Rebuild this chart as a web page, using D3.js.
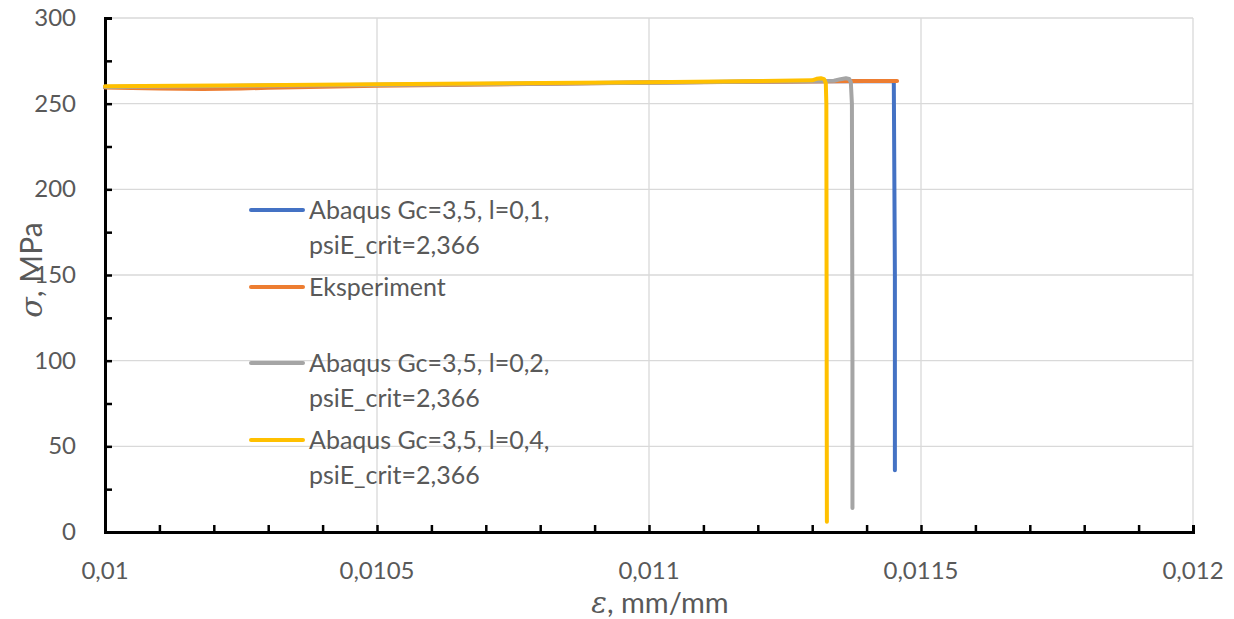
<!DOCTYPE html>
<html>
<head>
<meta charset="utf-8">
<script src="https://cdn.jsdelivr.net/npm/d3@7"></script>
<style>
  body { margin: 0; background: #fff; }
  svg { font-family: Lato, 'Open Sans', sans-serif; }
</style>
</head>
<body>
<svg id="chart"></svg>
<script>
// series data, strain (mm/mm) and stress (MPa)
const seriesNames = [
  ['Abaqus Gc=3,5, l=0,1,', 'psiE_crit=2,366'],
  ['Eksperiment'],
  ['Abaqus Gc=3,5, l=0,2,', 'psiE_crit=2,366'],
  ['Abaqus Gc=3,5, l=0,4,', 'psiE_crit=2,366']
];
const seriesColors = ['#4472C4', '#ED7D31', '#A5A5A5', '#FFC000'];

const blueX = [0.01, 0.0105, 0.011, 0.01125, 0.01145, 0.011452, 0.011452];
const blueY = [259.8, 261, 262.3, 263, 263.3, 150, 36];

const orangeX = [0.01, 0.01005, 0.0101, 0.01018, 0.01025, 0.0103, 0.0105, 0.011, 0.0114, 0.011456];
const orangeY = [259.5, 259.1, 258.8, 258.5, 258.8, 259.3, 260.5, 262.3, 263.2, 263.2];

const grayX = [0.01, 0.0105, 0.011, 0.01134, 0.011352, 0.011362, 0.011368, 0.011371, 0.011373, 0.011374, 0.011374];
const grayY = [259.8, 260.9, 262.2, 263.4, 264.3, 264.8, 264.4, 262.5, 250, 100, 14];

const yellowX = [0.01, 0.0105, 0.011, 0.0113, 0.011308, 0.011316, 0.011322, 0.011325, 0.011326, 0.011327];
const yellowY = [260.2, 261.3, 262.5, 263.6, 264.5, 264.8, 264.3, 262, 250, 6];

const xTicks = [0.01, 0.0105, 0.011, 0.0115, 0.012];
const yTicks = [0, 50, 100, 150, 200, 250, 300];

const seriesX = [blueX, orangeX, grayX, yellowX];
const seriesY = [blueY, orangeY, grayY, yellowY];

const W = 1234, H = 619;
const margin = { top: 18, right: 41, bottom: 87, left: 105 };
const width = W - margin.left - margin.right;
const height = H - margin.top - margin.bottom;

const svg = d3.select('#chart').attr('width', W).attr('height', H);
const chart = svg.append('g')
  .attr('transform', `translate(${margin.left}, ${margin.top})`);

const x = d3.scaleLinear().domain([0.01, 0.012]).range([0, width]);
const y = d3.scaleLinear().domain([0, 300]).range([height, 0]);

const fmt = d => String(+d.toFixed(5)).replace('.', ',');

// gridlines
chart.append('g')
  .selectAll('line')
  .data(xTicks.slice(1))
  .enter().append('line')
  .attr('x1', d => x(d)).attr('x2', d => x(d))
  .attr('y1', 0).attr('y2', height)
  .attr('stroke', '#d9d9d9').attr('stroke-width', 1.3);

chart.append('g')
  .selectAll('line')
  .data(yTicks.slice(1))
  .enter().append('line')
  .attr('x1', 0).attr('x2', width)
  .attr('y1', d => y(d)).attr('y2', d => y(d))
  .attr('stroke', '#d9d9d9').attr('stroke-width', 1.3);

// axes with inward ticks (major + minor)
const xMinor = d3.range(0, 21).map(i => 0.01 + i * 0.0001);
const yMinor = d3.range(0, 13).map(i => i * 25);

chart.append('g')
  .attr('transform', `translate(0, ${height})`)
  .call(d3.axisBottom(x).tickValues(xMinor).tickSize(-7).tickFormat(''))
  .call(g => g.selectAll('line').attr('stroke', '#000').attr('stroke-width', 2.5))
  .call(g => g.select('.domain').attr('stroke', '#000').attr('stroke-width', 3));

chart.append('g')
  .call(d3.axisLeft(y).tickValues(yMinor).tickSize(-7).tickFormat(''))
  .call(g => g.selectAll('line').attr('stroke', '#000').attr('stroke-width', 2.5))
  .call(g => g.select('.domain').attr('stroke', '#000').attr('stroke-width', 3));

// tick labels
chart.append('g')
  .selectAll('text')
  .data(xTicks)
  .enter().append('text')
  .attr('x', d => x(d))
  .attr('y', height + 47)
  .attr('text-anchor', 'middle')
  .attr('fill', '#595959')
  .style('font-size', '24px')
  .text(fmt);

chart.append('g')
  .selectAll('text')
  .data(yTicks)
  .enter().append('text')
  .attr('x', -29)
  .attr('y', d => y(d) + 8)
  .attr('text-anchor', 'end')
  .attr('fill', '#595959')
  .style('font-size', '24px')
  .text(d => d);

// series lines
const line = d3.line()
  .x(d => x(d[0]))
  .y(d => y(d[1]));

seriesX.forEach((xs, i) => {
  const pts = xs.map((v, j) => [v, seriesY[i][j]]);
  chart.append('path')
    .datum(pts)
    .attr('fill', 'none')
    .attr('stroke', seriesColors[i])
    .attr('stroke-width', 4)
    .attr('stroke-linejoin', 'round')
    .attr('stroke-linecap', 'round')
    .attr('d', line);
});

// legend
const legendY = [210, 287, 363, 440];
const legend = svg.append('g');
seriesNames.forEach((lines, i) => {
  legend.append('line')
    .attr('x1', 251).attr('x2', 303)
    .attr('y1', legendY[i]).attr('y2', legendY[i])
    .attr('stroke', seriesColors[i])
    .attr('stroke-width', 4)
    .attr('stroke-linecap', 'round');
  lines.forEach((t, k) => {
    legend.append('text')
      .attr('x', 309)
      .attr('y', legendY[i] + 9 + k * 35)
      .attr('fill', '#595959')
      .style('font-size', '25px')
      .text(t);
  });
});

// axis titles
const xTitle = svg.append('text')
  .attr('x', 660)
  .attr('y', 613)
  .attr('text-anchor', 'middle')
  .attr('fill', '#595959')
  .style('font-size', '29px');
xTitle.append('tspan').style('font-family', "'DejaVu Serif', serif").style('font-style', 'italic').text('ε');
xTitle.append('tspan').text(', mm/mm');

const yTitle = svg.append('text')
  .attr('transform', 'translate(42, 270) rotate(-90)')
  .attr('text-anchor', 'middle')
  .attr('fill', '#595959')
  .style('font-size', '30px');
yTitle.append('tspan').style('font-family', "'DejaVu Serif', serif").style('font-style', 'italic').text('σ');
yTitle.append('tspan').text(', MPa');
</script>
</body>
</html>
